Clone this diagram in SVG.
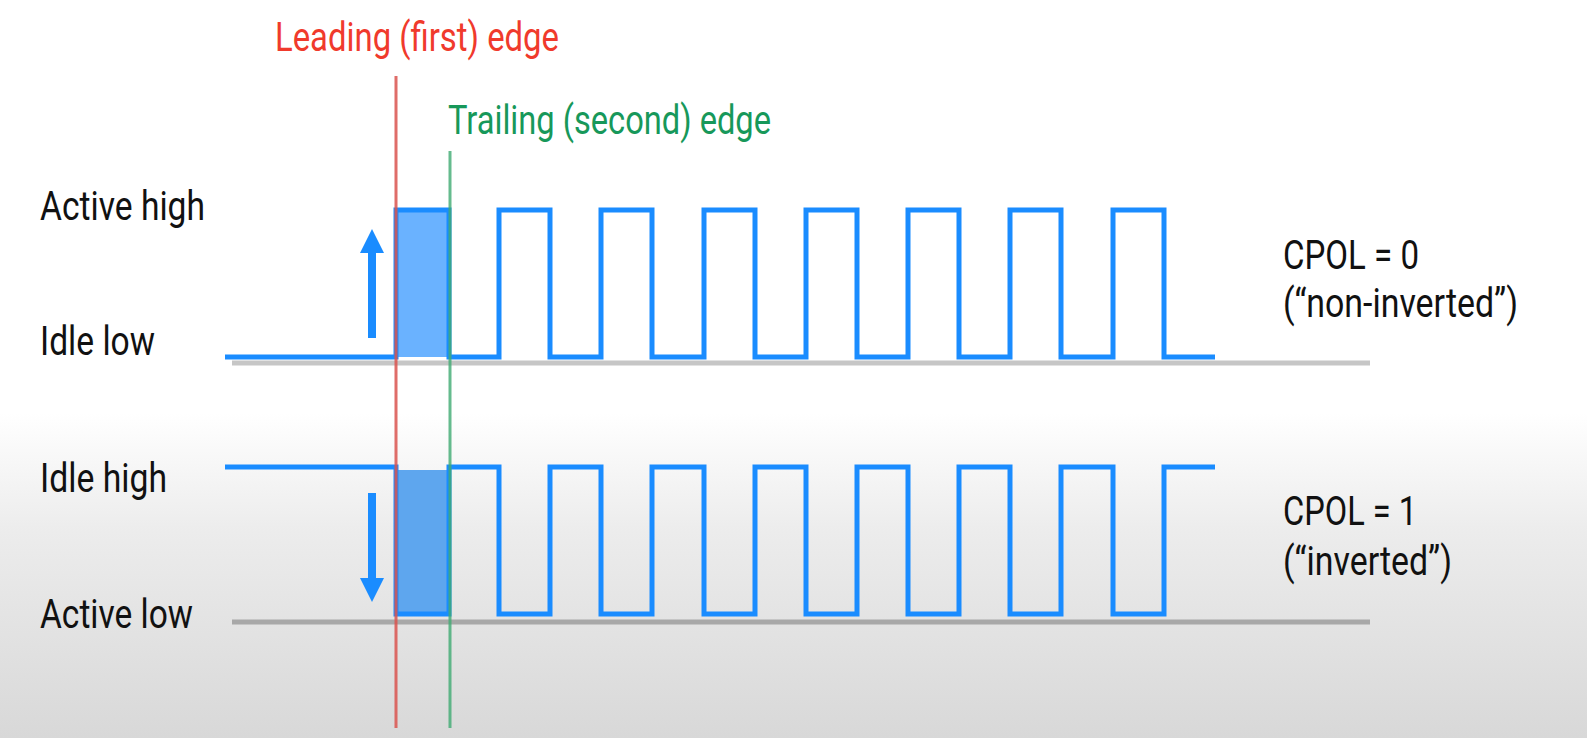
<svg xmlns="http://www.w3.org/2000/svg" width="1587" height="738" viewBox="0 0 1587 738">
<defs>
<linearGradient id="bg" x1="0" y1="0" x2="0" y2="1">
<stop offset="0" stop-color="#ffffff"/>
<stop offset="0.56" stop-color="#ffffff"/>
<stop offset="0.72" stop-color="#ececec"/>
<stop offset="1" stop-color="#d8d8d8"/>
</linearGradient>
<style>
text{font-family:"Liberation Sans Narrow","Roboto","Liberation Sans",sans-serif;font-size:40px;fill:#111}
.wave{fill:none;stroke:#1a8cff;stroke-width:5}
.base{stroke-width:5}
.arrow{fill:#1a8cff}
</style>
</defs>
<rect x="0" y="0" width="1587" height="738" fill="url(#bg)"/>
<g id="labels">
<text x="40" y="220" textLength="165" lengthAdjust="spacingAndGlyphs">Active high</text>
<text x="40" y="355" textLength="115" lengthAdjust="spacingAndGlyphs">Idle low</text>
<text x="40" y="492" textLength="127" lengthAdjust="spacingAndGlyphs">Idle high</text>
<text x="40" y="628" textLength="153" lengthAdjust="spacingAndGlyphs">Active low</text>
<text x="275" y="51" textLength="284" lengthAdjust="spacingAndGlyphs" style="fill:#f03a2c">Leading (first) edge</text>
<text x="448" y="134" textLength="323" lengthAdjust="spacingAndGlyphs" style="fill:#17985a">Trailing (second) edge</text>
<text x="1283" y="269" textLength="136" lengthAdjust="spacingAndGlyphs">CPOL = 0</text>
<text x="1283" y="317" textLength="235" lengthAdjust="spacingAndGlyphs">(“non-inverted”)</text>
<text x="1283" y="525" textLength="134" lengthAdjust="spacingAndGlyphs">CPOL = 1</text>
<text x="1283" y="575" textLength="169" lengthAdjust="spacingAndGlyphs">(“inverted”)</text>
</g>
<g id="baselines">
<line class="base" x1="232" y1="363" x2="1370" y2="363" stroke="#c6c6c6"/>
<line class="base" x1="232" y1="622" x2="1370" y2="622" stroke="#a8a8a8"/>
</g>
<g id="highlights">
<rect x="396" y="210" width="53" height="147" fill="#6ab2ff"/>
<rect x="396" y="470" width="53" height="144" fill="#5ea6ee"/>
</g>
<g id="waveforms">
<path id="cpol0" class="wave" d="M225,357 H396 V210 H449 V357 H499 V210 H550 V357 H601 V210 H652 V357 H704 V210 H755 V357 H806 V210 H857 V357 H908 V210 H959 V357 H1010 V210 H1061 V357 H1113 V210 H1164 V357 H1215"/>
<path id="cpol1" class="wave" d="M225,467 H396 V614 H449 V467 H499 V614 H550 V467 H601 V614 H652 V467 H704 V614 H755 V467 H806 V614 H857 V467 H908 V614 H959 V467 H1010 V614 H1061 V467 H1113 V614 H1164 V467 H1215"/>
</g>
<g id="arrows">
<rect class="arrow" x="368" y="252" width="8" height="86"/>
<polygon class="arrow" points="360,253 384,253 372,229"/>
<rect class="arrow" x="368" y="493" width="8" height="86"/>
<polygon class="arrow" points="360,578 384,578 372,602"/>
</g>
<g id="edges">
<line x1="396" y1="76" x2="396" y2="728" stroke="#d9534f" stroke-width="3" stroke-opacity="0.85"/>
<line x1="450" y1="151" x2="450" y2="728" stroke="#3faa72" stroke-width="3" stroke-opacity="0.8"/>
</g>
</svg>
